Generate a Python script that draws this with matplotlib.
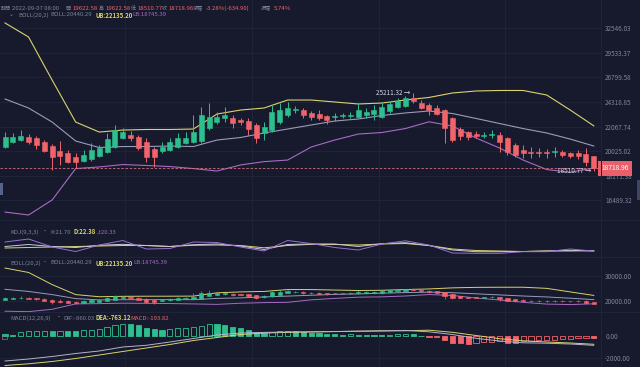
import numpy as np
import matplotlib.pyplot as plt
from matplotlib.patches import Rectangle

plt.rcParams['font.family'] = ['Noto Sans CJK TC', 'DejaVu Sans']

# ---- candles (4h), values ----
opens = [20380, 20740, 20930, 21160, 21070, 20800, 20460, 20040, 19860, 19600,
         19270, 19420, 19670, 19980, 20380, 21070, 21350, 21190, 20800, 20200,
         20030, 20120, 20380, 20660, 20800, 20850, 21950, 22470, 22830, 22860,
         22650, 22560, 22210, 21520, 21770, 22470, 23100, 23560, 23560, 23290,
         23200, 23010, 22920, 23010, 23010, 22920, 23100, 23200, 22920, 23470,
         23870, 23970, 24710, 24190, 24030, 23780, 23560, 22800, 21860, 21580,
         21410, 21280, 21350, 21350, 21070, 20520, 20120, 19990, 19990, 19940,
         19940, 19990, 19860, 19860, 19780, 19622.58]
highs = [21620, 21540, 21770, 21410, 21290, 20930, 20600, 20850, 20120, 19860,
         20120, 20660, 20520, 21490, 22210, 21920, 21690, 21350, 21070, 20380,
         20790, 21070, 21490, 21620, 23100, 23840, 24220, 23380, 23840, 23100,
         22830, 22830, 22390, 22470, 24030, 24220, 24320, 23940, 23750, 23470,
         23560, 23100, 23290, 23290, 23380, 24220, 23750, 24030, 24320, 24420,
         24710, 24900, 25211.32, 24510, 24190, 24030, 23660, 22950, 22060, 21690,
         21690, 21620, 21770, 21580, 21190, 20660, 20520, 20380, 20300, 20200,
         20380, 20120, 19990, 20120, 20260, 19622.58]
lows = [20260, 20660, 20850, 20580, 20200, 19990, 18600, 18970, 19090, 18760,
        19170, 19270, 19580, 19860, 20260, 21020, 20850, 20120, 19210, 18840,
        19860, 20030, 20260, 20580, 20660, 20690, 21770, 22300, 22470, 21950,
        22210, 21350, 20690, 20930, 21600, 22300, 22920, 23290, 22830, 22650,
        22650, 22300, 22560, 22830, 22830, 22830, 22830, 22650, 22830, 23290,
        23750, 23840, 24220, 23660, 23100, 23100, 20660, 20740, 20930, 20930,
        21070, 21070, 21070, 19990, 19730, 19600, 19520, 19470, 19600, 19470,
        19600, 19600, 19520, 19420, 18890, 18510.77]
closes = [21190, 21190, 21290, 20800, 20520, 20040, 19600, 19670, 19220, 19170,
          19730, 20120, 20260, 21020, 21770, 21620, 21070, 20260, 19600, 19600,
          20380, 20740, 21070, 21070, 21620, 23100, 22920, 22920, 23100, 22360,
          22470, 21860, 21100, 22030, 23380, 23560, 23750, 23660, 23100, 22920,
          22830, 22650, 23010, 23100, 23100, 23560, 23380, 23560, 23840, 24130,
          24420, 24680, 24420, 23780, 23560, 23170, 21920, 20930, 21280, 21190,
          21280, 21350, 21410, 20800, 19990, 19730, 19860, 19910, 19890, 19860,
          20040, 19730, 19680, 19680, 19210, 18718.96]

# ---- indicator lines, read every third candle ----
line_idx = list(range(0, 76, 3))
boll_ub = [33220, 31430, 26520, 22470, 21600, 21770, 21820, 21820, 21860, 23190,
           23560, 23750, 24510, 24510, 24320, 24130, 24220, 24510, 24760, 25200,
           25400, 25450, 25450, 25000, 23560, 22135.20]
boll_mb = [24610, 23750, 22470, 20850, 20320, 20400, 20400, 20440, 20400, 20930,
           21140, 21520, 21860, 22210, 22560, 22740, 23060, 23290, 23470, 23240,
           22790, 22340, 21900, 21520, 21010, 20440.29]
boll_lb = [15750, 15570, 16520, 18700, 18820, 19000, 18930, 18850, 18700, 18520,
           18970, 19220, 19340, 20360, 20930, 21430, 21560, 21900, 22490, 22120,
           21100, 20280, 19340, 18630, 18430, 18745.39]
kdj_k = [44.7, 55.3, 44.7, 39.5, 51.1, 56.3, 50.0, 44.7, 54.2, 57.9, 47.4, 28.9, 55.3,
         57.9, 57.9, 44.7, 59.5, 64.7, 50.0, 26.3, 17.4, 17.4, 18.4, 21.1, 24.7, 21.70]
kdj_d = [36.8, 39.5, 42.1, 44.7, 47.4, 50.0, 50.0, 44.7, 51.1, 52.6, 50.0, 37.9, 50.0,
         56.3, 55.3, 52.6, 57.9, 60.5, 50.0, 31.6, 23.7, 21.1, 18.4, 21.1, 21.1, 22.38]
kdj_j = [68.4, 84.2, 42.1, 18.4, 52.6, 76.3, 31.6, 34.2, 68.4, 65.8, 42.1, 21.1, 76.3,
         60.5, 39.5, 26.3, 57.9, 74.7, 52.6, 10.5, 8.9, 8.9, 17.4, 17.4, 31.6, 20.33]
macd_dif = [-2304, -2120, -1889, -1613, -1383, -1014, -857, -553, -230, 92, 276, 332, 369,
            387, 415, 442, 461, 516, 387, 138, -212, -461, -627, -664, -737, -860.03]
macd_dea = [-2719, -2562, -2350, -2074, -1751, -1429, -1106, -783, -415, -138, 138, 276, 332,
            369, 406, 442, 479, 479, 535, 341, 46, -249, -442, -553, -645, -763.12]
macd_hist = [150, 60, 350, 420, 480, 490, 450, 470, 440, 430,
             520, 580, 670, 830, 980, 1130, 1100, 980, 770, 600,
             580, 670, 730, 770, 830, 890, 1150, 1120, 1040, 860,
             700, 520, 300, 270, 370, 460, 470, 430, 370, 300,
             290, 200, 150, 120, 140, 110, 100, 90, 80, 120,
             160, 200, 180, 30, -70, -120, -370, -650, -680, -740,
             -610, -550, -520, -460, -680, -690, -430, -420, -410, -370,
             -360, -300, -250, -210, -150, -193.82]

price_ticks = [16489.32, 18171.38, 20025.02, 22067.74, 24318.85, 26799.58, 29533.37, 32546.03]

BG = '#161a2c'
GRID = '#20263a'
TXT = '#7f849c'
UP = '#2ebf8e'
DOWN = '#f2646b'
YEL = '#d9d36c'
MID = '#9a9bb8'
PUR = '#a66cc4'

W, H = 640, 367
fig = plt.figure(figsize=(6.4, 3.67), dpi=100, facecolor=BG)


def panel(top, bottom):
    ax = fig.add_axes([0, 1 - bottom / H, 601 / W, (bottom - top) / H])
    ax.set_facecolor(BG)
    for s in ax.spines.values():
        s.set_visible(False)
    ax.set_xlim(-0.64, 75.92)
    ax.set_xticks([])
    ax.yaxis.tick_right()
    ax.tick_params(axis='y', length=0, pad=3, labelsize=4.6, labelcolor=TXT)
    for gx in [15.3, 31.5, 47.6, 63.7]:
        ax.axvline(gx, color=GRID, lw=0.6, zorder=0)
    return ax


def draw_candles(ax, width, lw):
    x = np.arange(len(opens))
    o, h, l, c = map(np.array, (opens, highs, lows, closes))
    cols = np.where(c >= o, UP, DOWN)
    ax.vlines(x, l, h, colors=cols, lw=lw, zorder=2)
    lo = np.minimum(o, c)
    hi = np.maximum(o, c)
    ax.bar(x, hi - lo, width, bottom=lo, color=cols, edgecolor=cols, lw=0.4, zorder=3)


def draw_boll(ax, lw):
    ax.plot(line_idx, boll_ub, color=YEL, lw=lw, zorder=1)
    ax.plot(line_idx, boll_mb, color=MID, lw=lw, zorder=1)
    ax.plot(line_idx, boll_lb, color=PUR, lw=lw, zorder=1)


# ---- main price panel ----
ax = panel(0, 220)
ax.set_yscale('log')
ax.set_ylim(15265, 36374)
ax.yaxis.set_minor_locator(plt.NullLocator())
ax.set_yticks(price_ticks)
ax.set_yticklabels(['%.2f' % v for v in price_ticks])
for v in price_ticks:
    ax.axhline(v, color=GRID, lw=0.6, zorder=0)
draw_boll(ax, 0.8)
draw_candles(ax, 0.64, 0.7)
ax.axhline(closes[-1], color='#d0707e', lw=0.6, ls=(0, (3, 2)), zorder=1)
ax.text(1.0, closes[-1], '%.2f' % closes[-1], transform=ax.get_yaxis_transform(),
        ha='left', va='center', fontsize=4.8, color='white', zorder=6, clip_on=False,
        bbox=dict(boxstyle='square,pad=0.5', fc='#e9606a', ec='none'))
imax = int(np.argmax(highs))
imin = int(np.argmin(lows))
ax.text(imax - 0.35, highs[imax], '%.2f →' % highs[imax], ha='right', va='center',
        fontsize=4.6, color='#d6d8e6', zorder=5)
ax.text(imin - 0.35, lows[imin], '%.2f →' % lows[imin], ha='right', va='center',
        fontsize=4.6, color='#d6d8e6', zorder=5)

# ---- KDJ panel ----
ax2 = panel(222, 257)
ax2.set_ylim(-10.5, 173.7)
ax2.set_yticks([])
ax2.plot(line_idx, kdj_d, color=YEL, lw=0.7)
ax2.plot(line_idx, kdj_k, color='#c9c9d9', lw=0.7)
ax2.plot(line_idx, kdj_j, color='#9a6fd0', lw=0.7)

# ---- BOLL sub panel ----
ax3 = panel(257, 312)
ax3.set_ylim(15425, 37692)
ax3.set_yticks([20000, 30000])
ax3.set_yticklabels(['20000.00', '30000.00'])
for v in [20000, 30000]:
    ax3.axhline(v, color=GRID, lw=0.6, zorder=0)
draw_boll(ax3, 0.7)
draw_candles(ax3, 0.55, 0.5)

# ---- MACD panel ----
ax4 = panel(312, 367)
ax4.set_ylim(-2857, 2212)
ax4.set_yticks([0, -2000])
ax4.set_yticklabels(['0.00', '-2000.00'])
ax4.axhline(-2000, color=GRID, lw=0.6, zorder=0)
hist = np.array(macd_hist)
prev = np.concatenate([[hist[0] + 1], hist[:-1]])
for i, v in enumerate(hist):
    col = UP if v >= 0 else DOWN
    rising = v > prev[i]
    ax4.bar(i, v, 0.66, color='none' if rising else col, edgecolor=col, lw=0.6, zorder=2)
ax4.plot(line_idx, macd_dea, color=YEL, lw=0.7, zorder=3)
ax4.plot(line_idx, macd_dif, color='#b4b4cc', lw=0.7, zorder=3)

# ---- separators and side tabs ----
for y in [220, 257, 312]:
    fig.add_artist(plt.Line2D([0, 1], [1 - y / H] * 2, color=GRID, lw=0.7))
fig.add_artist(plt.Line2D([601 / W] * 2, [0, 1], color=GRID, lw=0.7))
fig.add_artist(Rectangle((0, 1 - 195 / H), 2.5 / W, 12 / H, transform=fig.transFigure,
                         fc='#56648c', ec='none'))
fig.add_artist(Rectangle((637 / W, 1 - 200 / H), 3 / W, 20 / H, transform=fig.transFigure,
                         fc='#3c4768', ec='none'))
fig.add_artist(Rectangle((2 / W, 1 - 338.5 / H), 4.5 / W, 4 / H, transform=fig.transFigure,
                         fc='none', ec='#c0607a', lw=0.5))


def label(x, y, s, color=TXT, weight='normal', size=4.3):
    fig.text(x / W, 1 - y / H, s, color=color, fontsize=size, ha='left', va='center',
             fontweight=weight)


# header
cjk = 3.6
label(0.5, 8, '時間', size=cjk)
label(12, 8, '2022-09-07 08:00')
label(65, 8, '開', size=cjk)
label(72, 8, '19622.58', DOWN)
label(99, 8, '高', size=cjk)
label(105, 8, '19622.58', DOWN)
label(131, 8, '低', size=cjk)
label(137, 8, '18510.77', DOWN)
label(162, 8, '收', size=cjk)
label(168, 8, '18718.96', DOWN)
label(193, 8, '漲幅', size=cjk)
label(206, 8, '-3.28%(-634.90)', DOWN)
label(261, 8, '振幅', size=cjk)
label(274, 8, '5.74%', DOWN)

label(9, 15, '⌄')
label(18, 15, 'BOLL(20,2)')
label(50, 15, 'BOLL:20440.29')
label(95, 15, 'UB:22135.20', YEL, 'bold')
label(132, 15, 'LB:18745.39', PUR)

label(10, 232, 'KDJ(9,3,3)')
label(42, 232, '•')
label(50, 232, 'K:21.70')
label(73, 232, 'D:22.38', YEL, 'bold')
label(97, 232, 'J:20.33', PUR)

label(10, 263, 'BOLL(20,2)')
label(42, 263, '•')
label(50, 263, 'BOLL:20440.29')
label(95, 263, 'UB:22135.20', YEL, 'bold')
label(133, 263, 'LB:18745.39', PUR)

label(10, 318, 'MACD(12,26,9)')
label(56, 318, '•')
label(63, 318, 'DIF:-860.03')
label(95, 318, 'DEA:-763.12', YEL, 'bold')
label(130, 318, 'MACD:-193.82', DOWN)

plt.savefig('out.png', dpi=100, facecolor=BG)
